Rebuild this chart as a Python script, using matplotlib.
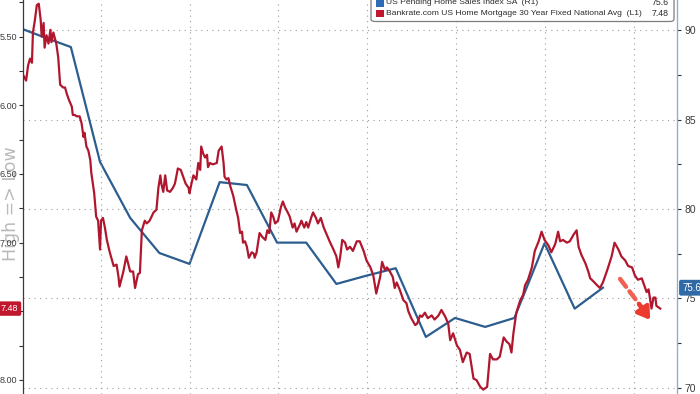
import matplotlib
matplotlib.use("Agg")
import matplotlib.pyplot as plt
import matplotlib.ticker as mticker
import matplotlib.transforms as mtrans
from matplotlib.patches import FancyBboxPatch, Rectangle
import pandas as pd

# ---------------- data ----------------
rate_base = "2022-07-01"
rate_day = [12, 15, 17, 19, 21, 22, 24, 26, 28, 30, 31, 33, 34, 36, 38, 40, 41, 43, 46, 48,
            50, 53, 55, 57, 59, 62, 63, 65, 67, 70, 72, 74, 75, 77, 79, 81, 82, 85, 87, 89,
            91, 92, 94, 96, 98, 101, 105, 108, 110, 111, 115, 118, 122, 125, 127, 130, 132, 134, 137, 139,
            142, 146, 149, 151, 153, 154, 156, 158, 160, 163, 166, 168, 171, 174, 177, 179, 182, 183, 185, 187,
            190, 192, 194, 195, 197, 199, 201, 202, 204, 207, 211, 213, 216, 218, 219, 221, 223, 225, 228, 231,
            233, 235, 237, 238, 240, 242, 244, 247, 249, 250, 252, 255, 258, 261, 263, 265, 267, 269, 271, 274,
            277, 279, 281, 284, 286, 289, 291, 293, 297, 298, 301, 303, 305, 308, 310, 313, 315, 318, 321, 324,
            327, 331, 334, 336, 338, 340, 343, 345, 348, 351, 355, 358, 362, 365, 369, 372, 375, 379, 381, 384,
            386, 389, 392, 394, 396, 399, 403, 406, 408, 411, 415, 417, 420, 422, 425, 428, 432, 435, 439, 442,
            446, 449, 451, 454, 458, 461, 464, 468, 471, 475, 478, 482, 485, 489, 492, 495, 499, 502, 506, 509,
            512, 514, 516, 519, 523, 526, 528, 531, 535, 538, 542, 545, 548, 552, 555, 559, 562, 564, 567, 571,
            574, 578, 581, 583, 586, 590, 593, 595, 598, 602, 605, 608, 612, 617, 620, 624, 627, 631, 634, 638,
            641, 644, 648, 651, 653, 655, 658, 660, 662, 663, 667]
rate_val = [5.78, 5.82, 5.71, 5.66, 5.69, 5.47, 5.38, 5.27, 5.26, 5.38, 5.50, 5.40, 5.58, 5.49, 5.55, 5.45, 5.54, 5.47, 5.55, 5.65,
            5.85, 5.87, 5.87, 5.92, 5.96, 6.01, 6.07, 6.07, 6.08, 6.08, 6.13, 6.23, 6.20, 6.30, 6.33, 6.40, 6.49, 6.64, 6.81, 6.84,
            7.05, 6.84, 6.82, 6.89, 6.98, 7.07, 7.17, 7.16, 7.25, 7.32, 7.21, 7.10, 7.21, 7.21, 7.33, 7.23, 7.22, 6.91, 6.84, 6.86,
            6.84, 6.78, 6.76, 6.60, 6.51, 6.57, 6.63, 6.51, 6.62, 6.63, 6.60, 6.57, 6.46, 6.47, 6.53, 6.57, 6.60, 6.64, 6.57, 6.51,
            6.54, 6.42, 6.47, 6.30, 6.35, 6.38, 6.36, 6.45, 6.42, 6.43, 6.42, 6.33, 6.30, 6.42, 6.52, 6.54, 6.53, 6.59, 6.66, 6.76,
            6.82, 6.93, 6.92, 7.00, 6.99, 7.03, 7.11, 7.07, 7.08, 7.11, 7.07, 6.93, 6.96, 6.98, 6.91, 6.93, 6.78, 6.81, 6.86, 6.84,
            6.74, 6.70, 6.74, 6.78, 6.81, 6.89, 6.86, 6.92, 6.86, 6.84, 6.89, 6.85, 6.89, 6.82, 6.78, 6.82, 6.86, 6.82, 6.89, 6.94,
            6.99, 7.05, 7.10, 7.18, 7.10, 6.98, 7.00, 7.05, 7.03, 7.06, 6.99, 6.99, 7.06, 7.13, 7.18, 7.24, 7.37, 7.25, 7.14, 7.20,
            7.18, 7.21, 7.25, 7.33, 7.29, 7.34, 7.42, 7.44, 7.50, 7.55, 7.60, 7.59, 7.53, 7.54, 7.51, 7.55, 7.53, 7.56, 7.53, 7.49,
            7.54, 7.59, 7.71, 7.66, 7.75, 7.78, 7.87, 7.80, 7.81, 7.99, 8.00, 8.05, 8.07, 8.05, 7.81, 7.85, 7.85, 7.83, 7.69, 7.72,
            7.74, 7.80, 7.66, 7.51, 7.42, 7.38, 7.31, 7.27, 7.18, 7.06, 6.99, 6.92, 6.98, 7.02, 7.07, 7.01, 6.92, 6.99, 6.98, 7.00,
            6.99, 6.94, 6.91, 7.03, 7.09, 7.15, 7.21, 7.26, 7.28, 7.31, 7.33, 7.29, 7.21, 7.10, 7.00, 7.05, 7.10, 7.13, 7.17, 7.18,
            7.24, 7.27, 7.26, 7.32, 7.36, 7.34, 7.48, 7.40, 7.40, 7.46, 7.48]

phs_dates = ["2022-06-30", "2022-07-31", "2022-08-31", "2022-09-30", "2022-10-31", "2022-11-30",
             "2022-12-31", "2023-01-31", "2023-02-28", "2023-03-31", "2023-04-30", "2023-05-31",
             "2023-06-30", "2023-07-31", "2023-08-31", "2023-09-30", "2023-10-31", "2023-11-30",
             "2023-12-31", "2024-01-31", "2024-02-29"]
phs_val = [90.31, 89.67, 89.05, 82.63, 79.50, 77.54, 76.93, 81.50, 81.34, 78.12, 78.12, 75.81,
           76.26, 76.69, 72.85, 73.91, 73.41, 73.91, 78.08, 74.43, 75.60]

quarter_starts = ["2022-10-01", "2023-01-01", "2023-04-01", "2023-07-01",
                  "2023-10-01", "2024-01-01", "2024-04-01"]
left_ticks = [5.50, 6.00, 6.50, 7.00, 7.50, 8.00]
right_ticks = [70, 75, 80, 85, 90]
last_rate = "7.48"
last_phs = "75.6"
legend_names = ["US Pending Home Sales Index SA  (R1)",
                "Bankrate.com US Home Mortgage 30 Year Fixed National Avg  (L1)"]
legend_last = [last_phs, last_rate]
axis_title = "High => Low"

# ---------------- style ----------------
RED = "#b0172f"
BLUE = "#2c5d8f"
SANS = ["Liberation Sans", "DejaVu Sans"]
GRID = dict(color="#9c9c9c", lw=0.8, ls=(0, (1, 4)))

W, H = 700, 394
fig = plt.figure(figsize=(W / 100, H / 100), dpi=100)
fig.patch.set_facecolor("white")

ax = fig.add_axes([23 / W, 0, 654 / W, 1])
ax2 = ax.twinx()
ax.set_zorder(ax2.get_zorder() + 1)
ax.patch.set_visible(False)

rate_dates = pd.Timestamp(rate_base) + pd.to_timedelta(rate_day, unit="D")
ax.plot(rate_dates, rate_val, color=RED, lw=1.6, solid_joinstyle="round")
ax2.plot(pd.to_datetime(phs_dates), phs_val, color=BLUE, lw=1.6, solid_joinstyle="round")

ax.set_xlim(pd.Timestamp("2022-07-12 19:00"), pd.Timestamp("2024-05-15 05:00"))
ax.set_ylim(8.102, 5.233)
ax2.set_ylim(69.66, 91.68)

for s in ("top", "bottom", "right"):
    ax.spines[s].set_visible(False)
ax.spines["left"].set_color("#3a3a3a")
ax.spines["left"].set_linewidth(0.9)
for s in ("top", "bottom", "left"):
    ax2.spines[s].set_visible(False)
ax2.spines["right"].set_color("#8fb0c8")
ax2.spines["right"].set_linewidth(1.0)

# x: quarterly grid, no labels
ax.set_xticks(pd.to_datetime(quarter_starts))
ax.tick_params(axis="x", length=0, labelbottom=False)
ax.grid(axis="x", **GRID)

# left axis
ax.yaxis.set_major_locator(mticker.FixedLocator(left_ticks))
ax.yaxis.set_minor_locator(mticker.MultipleLocator(0.25))
ax.yaxis.set_major_formatter(mticker.FormatStrFormatter("%.2f"))
ax.tick_params(axis="y", which="both", direction="out", length=3, width=0.8,
               color="#333333", pad=1)
ax.tick_params(axis="y", which="major", labelsize=6.5, labelcolor="#3c3c3c")
for lab in ax.get_yticklabels():
    lab.set_family(SANS)

# right axis
ax2.yaxis.set_major_locator(mticker.FixedLocator(right_ticks))
ax2.yaxis.set_minor_locator(mticker.MultipleLocator(2.5))
ax2.tick_params(axis="y", which="both", direction="out", length=3, width=0.8,
                color="#333333", pad=2.5)
ax2.tick_params(axis="y", which="major", labelsize=7.5, labelcolor="#3c3c3c")
for lab in ax2.get_yticklabels():
    lab.set_family(SANS)
ax2.grid(axis="y", **GRID)

# last value boxes
tl = mtrans.blended_transform_factory(ax.transAxes, ax.transData)
ax.text(-4.5 / 654, float(last_rate), last_rate, transform=tl, ha="right", va="center",
        fontsize=6.5, color="white", family=SANS, zorder=20, clip_on=False,
        bbox=dict(boxstyle="round,pad=0.3,rounding_size=0.2", fc="#c0162e", ec="none"))
tr = mtrans.blended_transform_factory(ax2.transAxes, ax2.transData)
ax2.text(1 + 5 / 654, float(last_phs), last_phs, transform=tr, ha="left", va="center",
         fontsize=7, color="white", family=SANS, zorder=20, clip_on=False,
         bbox=dict(boxstyle="round,pad=0.3,rounding_size=0.2", fc="#2f6aa6", ec="none"))

# axis title
fig.text(11 / W, 1 - 204 / H, axis_title, rotation=90, ha="center", va="center",
         fontsize=12.5, color="#b9b9b9", family="DejaVu Sans", zorder=0)

# dashed arrow annotation
ax.annotate("", xy=(0.945, 0.222), xytext=(0.913, 0.292), xycoords="axes fraction",
            arrowprops=dict(arrowstyle="-", lw=3.2, ls=(0, (2.2, 1.3)), color="#f0624f",
                            shrinkA=0, shrinkB=0), zorder=15)
ax.annotate("", xy=(0.959, 0.188), xytext=(0.942, 0.228), xycoords="axes fraction",
            arrowprops=dict(arrowstyle="-|>,head_length=0.7,head_width=0.45", lw=3.2,
                            color="#ec3b2e", shrinkA=0, shrinkB=0), zorder=15)

# legend (top right)
def fx(x):
    return x / W

def fy(y):
    return 1 - y / H

box = FancyBboxPatch((fx(371), fy(21.5)), fx(674) - fx(371), fy(-8) - fy(21.5),
                     boxstyle="round,pad=0,rounding_size=0.006", transform=fig.transFigure,
                     fc="white", ec="#7d7d7d", lw=0.9, zorder=30)
fig.add_artist(box)
leg_colors = ["#2e6cb8", "#c0162e"]
leg_y = [2.7, 13.3]
for name, val, c, yy in zip(legend_names, legend_last, leg_colors, leg_y):
    fig.add_artist(Rectangle((fx(376.5), fy(yy + 3.8)), fx(7.5), fy(0) - fy(7.5),
                             transform=fig.transFigure, fc=c, ec="none", zorder=31))
    fig.text(fx(386.5), fy(yy), name, ha="left", va="center", fontsize=6.1,
             color="#2a2a2a", family=SANS, zorder=32)
    fig.text(fx(669), fy(yy), val, ha="right", va="center", fontsize=6.3,
             color="#2a2a2a", family=SANS, zorder=32)

fig.savefig("out.png", dpi=100, facecolor="white")
